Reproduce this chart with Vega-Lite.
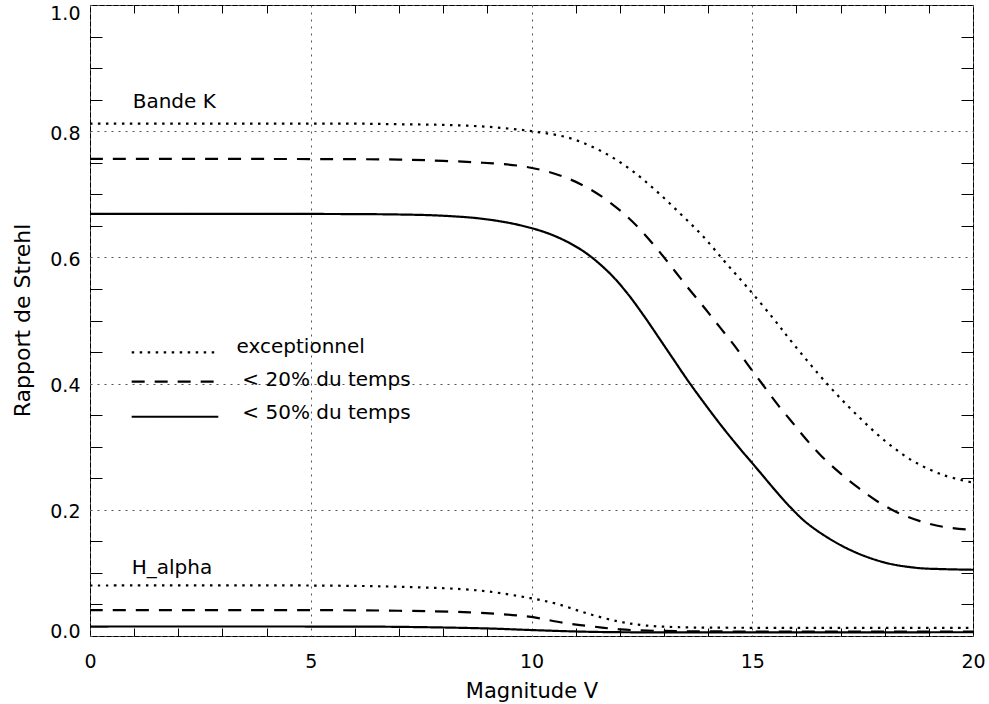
{
  "$schema": "https://vega.github.io/schema/vega-lite/v6.json",
  "width": 883,
  "height": 631,
  "autosize": {"type": "none"},
  "padding": {"left": 90, "top": 5, "right": 16, "bottom": 68},
  "background": "white",
  "config": {
    "view": {"stroke": "black", "strokeWidth": 1},
    "font": "DejaVu Sans",
    "axis": {"labelFont": "DejaVu Sans", "titleFont": "DejaVu Sans", "labelColor": "black", "titleColor": "black", "titleFontWeight": "normal", "tickColor": "black", "tickWidth": 1, "domain": false}
  },
  "datasets": {
    "curves": [
      {"band": "K", "series": "exceptionnel", "x": 0, "v": 0.812},
      {"band": "K", "series": "exceptionnel", "x": 2, "v": 0.812},
      {"band": "K", "series": "exceptionnel", "x": 4, "v": 0.812},
      {"band": "K", "series": "exceptionnel", "x": 6, "v": 0.812},
      {"band": "K", "series": "exceptionnel", "x": 7, "v": 0.811},
      {"band": "K", "series": "exceptionnel", "x": 8, "v": 0.810},
      {"band": "K", "series": "exceptionnel", "x": 9, "v": 0.807},
      {"band": "K", "series": "exceptionnel", "x": 10, "v": 0.800},
      {"band": "K", "series": "exceptionnel", "x": 10.87, "v": 0.789},
      {"band": "K", "series": "exceptionnel", "x": 11.59, "v": 0.768},
      {"band": "K", "series": "exceptionnel", "x": 12.23, "v": 0.740},
      {"band": "K", "series": "exceptionnel", "x": 12.8, "v": 0.707},
      {"band": "K", "series": "exceptionnel", "x": 13.36, "v": 0.670},
      {"band": "K", "series": "exceptionnel", "x": 13.89, "v": 0.633},
      {"band": "K", "series": "exceptionnel", "x": 14.38, "v": 0.593},
      {"band": "K", "series": "exceptionnel", "x": 14.87, "v": 0.554},
      {"band": "K", "series": "exceptionnel", "x": 15.48, "v": 0.503},
      {"band": "K", "series": "exceptionnel", "x": 15.93, "v": 0.463},
      {"band": "K", "series": "exceptionnel", "x": 16.69, "v": 0.400},
      {"band": "K", "series": "exceptionnel", "x": 17.33, "v": 0.353},
      {"band": "K", "series": "exceptionnel", "x": 18.01, "v": 0.309},
      {"band": "K", "series": "exceptionnel", "x": 18.65, "v": 0.277},
      {"band": "K", "series": "exceptionnel", "x": 19.33, "v": 0.255},
      {"band": "K", "series": "exceptionnel", "x": 20, "v": 0.243},
      {"band": "K", "series": "< 20% du temps", "x": 0, "v": 0.756},
      {"band": "K", "series": "< 20% du temps", "x": 4, "v": 0.756},
      {"band": "K", "series": "< 20% du temps", "x": 7, "v": 0.755},
      {"band": "K", "series": "< 20% du temps", "x": 8, "v": 0.753},
      {"band": "K", "series": "< 20% du temps", "x": 8.9, "v": 0.750},
      {"band": "K", "series": "< 20% du temps", "x": 9.74, "v": 0.745},
      {"band": "K", "series": "< 20% du temps", "x": 10.31, "v": 0.737},
      {"band": "K", "series": "< 20% du temps", "x": 10.83, "v": 0.725},
      {"band": "K", "series": "< 20% du temps", "x": 11.33, "v": 0.708},
      {"band": "K", "series": "< 20% du temps", "x": 11.74, "v": 0.689},
      {"band": "K", "series": "< 20% du temps", "x": 12.16, "v": 0.665},
      {"band": "K", "series": "< 20% du temps", "x": 12.53, "v": 0.639},
      {"band": "K", "series": "< 20% du temps", "x": 12.91, "v": 0.608},
      {"band": "K", "series": "< 20% du temps", "x": 13.25, "v": 0.578},
      {"band": "K", "series": "< 20% du temps", "x": 13.59, "v": 0.548},
      {"band": "K", "series": "< 20% du temps", "x": 13.93, "v": 0.519},
      {"band": "K", "series": "< 20% du temps", "x": 14.27, "v": 0.489},
      {"band": "K", "series": "< 20% du temps", "x": 14.61, "v": 0.459},
      {"band": "K", "series": "< 20% du temps", "x": 14.87, "v": 0.433},
      {"band": "K", "series": "< 20% du temps", "x": 15.21, "v": 0.401},
      {"band": "K", "series": "< 20% du temps", "x": 15.55, "v": 0.369},
      {"band": "K", "series": "< 20% du temps", "x": 15.89, "v": 0.340},
      {"band": "K", "series": "< 20% du temps", "x": 16.23, "v": 0.311},
      {"band": "K", "series": "< 20% du temps", "x": 16.57, "v": 0.285},
      {"band": "K", "series": "< 20% du temps", "x": 16.99, "v": 0.258},
      {"band": "K", "series": "< 20% du temps", "x": 17.4, "v": 0.235},
      {"band": "K", "series": "< 20% du temps", "x": 17.82, "v": 0.214},
      {"band": "K", "series": "< 20% du temps", "x": 18.31, "v": 0.195},
      {"band": "K", "series": "< 20% du temps", "x": 18.8, "v": 0.182},
      {"band": "K", "series": "< 20% du temps", "x": 19.33, "v": 0.173},
      {"band": "K", "series": "< 20% du temps", "x": 20, "v": 0.168},
      {"band": "K", "series": "< 50% du temps", "x": 0, "v": 0.669},
      {"band": "K", "series": "< 50% du temps", "x": 4, "v": 0.669},
      {"band": "K", "series": "< 50% du temps", "x": 7, "v": 0.668},
      {"band": "K", "series": "< 50% du temps", "x": 8, "v": 0.666},
      {"band": "K", "series": "< 50% du temps", "x": 8.91, "v": 0.661},
      {"band": "K", "series": "< 50% du temps", "x": 9.74, "v": 0.651},
      {"band": "K", "series": "< 50% du temps", "x": 10.49, "v": 0.635},
      {"band": "K", "series": "< 50% du temps", "x": 11.17, "v": 0.610},
      {"band": "K", "series": "< 50% du temps", "x": 11.74, "v": 0.577},
      {"band": "K", "series": "< 50% du temps", "x": 12.16, "v": 0.544},
      {"band": "K", "series": "< 50% du temps", "x": 12.57, "v": 0.505},
      {"band": "K", "series": "< 50% du temps", "x": 12.91, "v": 0.470},
      {"band": "K", "series": "< 50% du temps", "x": 13.21, "v": 0.439},
      {"band": "K", "series": "< 50% du temps", "x": 13.59, "v": 0.400},
      {"band": "K", "series": "< 50% du temps", "x": 14.27, "v": 0.336},
      {"band": "K", "series": "< 50% du temps", "x": 14.72, "v": 0.297},
      {"band": "K", "series": "< 50% du temps", "x": 15.0, "v": 0.274},
      {"band": "K", "series": "< 50% du temps", "x": 15.85, "v": 0.205},
      {"band": "K", "series": "< 50% du temps", "x": 16.31, "v": 0.175},
      {"band": "K", "series": "< 50% du temps", "x": 17.14, "v": 0.139},
      {"band": "K", "series": "< 50% du temps", "x": 17.97, "v": 0.117},
      {"band": "K", "series": "< 50% du temps", "x": 18.72, "v": 0.108},
      {"band": "K", "series": "< 50% du temps", "x": 19.3, "v": 0.106},
      {"band": "K", "series": "< 50% du temps", "x": 20, "v": 0.105},
      {"band": "H", "series": "exceptionnel", "x": 0, "v": 0.080},
      {"band": "H", "series": "exceptionnel", "x": 5, "v": 0.080},
      {"band": "H", "series": "exceptionnel", "x": 7, "v": 0.078},
      {"band": "H", "series": "exceptionnel", "x": 8.83, "v": 0.072},
      {"band": "H", "series": "exceptionnel", "x": 9.97, "v": 0.060},
      {"band": "H", "series": "exceptionnel", "x": 10.57, "v": 0.051},
      {"band": "H", "series": "exceptionnel", "x": 11.25, "v": 0.036},
      {"band": "H", "series": "exceptionnel", "x": 11.97, "v": 0.023},
      {"band": "H", "series": "exceptionnel", "x": 12.53, "v": 0.017},
      {"band": "H", "series": "exceptionnel", "x": 13.29, "v": 0.014},
      {"band": "H", "series": "exceptionnel", "x": 15, "v": 0.013},
      {"band": "H", "series": "exceptionnel", "x": 20, "v": 0.013},
      {"band": "H", "series": "< 20% du temps", "x": 0, "v": 0.041},
      {"band": "H", "series": "< 20% du temps", "x": 5, "v": 0.041},
      {"band": "H", "series": "< 20% du temps", "x": 7, "v": 0.040},
      {"band": "H", "series": "< 20% du temps", "x": 8.6, "v": 0.0375},
      {"band": "H", "series": "< 20% du temps", "x": 9.89, "v": 0.031},
      {"band": "H", "series": "< 20% du temps", "x": 10.8, "v": 0.020},
      {"band": "H", "series": "< 20% du temps", "x": 11.4, "v": 0.015},
      {"band": "H", "series": "< 20% du temps", "x": 12, "v": 0.0106},
      {"band": "H", "series": "< 20% du temps", "x": 13, "v": 0.008},
      {"band": "H", "series": "< 20% du temps", "x": 20, "v": 0.007},
      {"band": "H", "series": "< 50% du temps", "x": 0, "v": 0.015},
      {"band": "H", "series": "< 50% du temps", "x": 5, "v": 0.015},
      {"band": "H", "series": "< 50% du temps", "x": 7, "v": 0.0145},
      {"band": "H", "series": "< 50% du temps", "x": 8.98, "v": 0.012},
      {"band": "H", "series": "< 50% du temps", "x": 9.97, "v": 0.0095},
      {"band": "H", "series": "< 50% du temps", "x": 11.1, "v": 0.007},
      {"band": "H", "series": "< 50% du temps", "x": 12, "v": 0.006},
      {"band": "H", "series": "< 50% du temps", "x": 20, "v": 0.006}
    ],
    "annotations": [
      {"x": 0.967, "v": 0.836, "label": "Bande K"},
      {"x": 0.944, "v": 0.099, "label": "H_alpha"}
    ],
    "legendLines": [
      {"series": "exceptionnel", "x1": 0.944, "x2": 2.906, "v": 0.4496},
      {"series": "< 20% du temps", "x1": 0.944, "x2": 2.906, "v": 0.403},
      {"series": "< 50% du temps", "x1": 0.944, "x2": 2.906, "v": 0.3475}
    ],
    "legendText": [
      {"x": 3.32, "v": 0.448, "label": "exceptionnel"},
      {"x": 3.45, "v": 0.396, "label": "< 20% du temps"},
      {"x": 3.45, "v": 0.344, "label": "< 50% du temps"}
    ]
  },
  "layer": [
    {
      "data": {"name": "curves"},
      "mark": {"type": "line", "interpolate": "catmull-rom", "strokeWidth": 2.2, "color": "black"},
      "encoding": {
        "x": {
          "field": "x", "type": "quantitative",
          "scale": {"domain": [0, 20], "nice": false, "zero": false},
          "axis": {"orient": "bottom", "values": [0, 5, 10, 15, 20], "format": "d", "grid": true, "gridDash": [2, 5], "gridColor": "#555555", "gridWidth": 1, "ticks": false, "labelFlush": false, "labelPadding": 16, "labelFontSize": 19, "title": "Magnitude V", "titleFontSize": 21, "titleX": 441.5, "titleY": 55, "titleBaseline": "middle", "titleAlign": "center"}
        },
        "y": {
          "field": "v", "type": "quantitative",
          "scale": {"domain": [0, 1], "nice": false, "zero": false},
          "axis": {"orient": "left", "values": [0, 0.2, 0.4, 0.6, 0.8, 1.0], "format": ".1f", "grid": true, "gridDash": [2, 5], "gridColor": "#555555", "gridWidth": 1, "ticks": false, "labelPadding": 10, "labelFontSize": 19, "labelFlush": true, "labelFlushOffset": 3, "labelOffset": 2, "title": "Rapport de Strehl", "titleFontSize": 22, "titleX": -68, "titleY": 315, "titleAngle": -90, "titleBaseline": "middle", "titleAlign": "center"}
        },
        "detail": {"field": "band", "type": "nominal"},
        "strokeDash": {
          "field": "series", "type": "nominal",
          "scale": {"domain": ["exceptionnel", "< 20% du temps", "< 50% du temps"], "range": [[2.5, 5.5], [13, 10], [1, 0]]},
          "legend": null
        }
      }
    },
    {
      "data": {"name": "annotations"},
      "mark": {"type": "text", "align": "left", "baseline": "alphabetic", "fontSize": 20, "font": "DejaVu Sans", "color": "black"},
      "encoding": {
        "x": {"field": "x", "type": "quantitative", "axis": {"orient": "bottom", "values": [1, 2, 3, 4, 6, 7, 8, 9, 11, 12, 13, 14, 16, 17, 18, 19], "ticks": true, "tickSize": -8, "labels": false, "grid": false, "title": null}},
        "y": {"field": "v", "type": "quantitative", "axis": {"orient": "left", "values": [0.05, 0.1, 0.15, 0.25, 0.3, 0.35, 0.45, 0.5, 0.55, 0.65, 0.7, 0.75, 0.85, 0.9, 0.95], "ticks": true, "tickSize": -12, "labels": false, "grid": false, "title": null}},
        "text": {"field": "label"}
      }
    },
    {
      "data": {"name": "legendLines"},
      "mark": {"type": "rule", "strokeWidth": 2.2, "color": "black"},
      "encoding": {
        "x": {"field": "x1", "type": "quantitative", "axis": {"orient": "top", "values": [1, 2, 3, 4, 6, 7, 8, 9, 11, 12, 13, 14, 16, 17, 18, 19], "ticks": true, "tickSize": -8, "labels": false, "grid": false, "title": null}},
        "x2": {"field": "x2"},
        "y": {"field": "v", "type": "quantitative", "axis": {"orient": "right", "values": [0.05, 0.1, 0.15, 0.25, 0.3, 0.35, 0.45, 0.5, 0.55, 0.65, 0.7, 0.75, 0.85, 0.9, 0.95], "ticks": true, "tickSize": -12, "labels": false, "grid": false, "title": null}},
        "strokeDash": {"field": "series", "type": "nominal", "legend": null}
      }
    },
    {
      "data": {"name": "legendText"},
      "mark": {"type": "text", "align": "left", "baseline": "alphabetic", "fontSize": 20, "font": "DejaVu Sans", "color": "black"},
      "encoding": {
        "x": {"field": "x", "type": "quantitative", "axis": null},
        "y": {"field": "v", "type": "quantitative", "axis": null},
        "text": {"field": "label"}
      }
    }
  ],
  "resolve": {"axis": {"x": "independent", "y": "independent"}}
}
